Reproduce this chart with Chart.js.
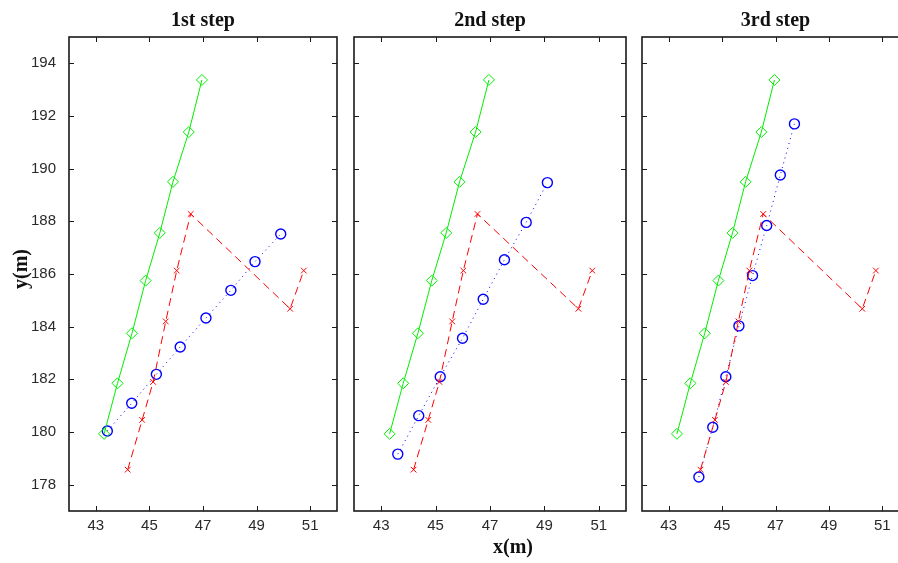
<!DOCTYPE html>
<html>
<head>
<meta charset="utf-8">
<script src="https://cdn.jsdelivr.net/npm/chart.js@4/dist/chart.umd.min.js"></script>
<style>
    body { margin: 0; background: #fff; overflow: hidden; }
    #wrap { position: relative; width: 898px; height: 563px; overflow: hidden; }
    canvas { position: absolute; top: 0; }
</style>
</head>
<body>
<div id="wrap">
    <canvas id="c1"></canvas>
    <canvas id="c2"></canvas>
    <canvas id="c3"></canvas>
</div>
<script>
// ---- data ----
const stepTitles = ['1st step', '2nd step', '3rd step'];
const xTicks = [43, 45, 47, 49, 51];
const yTicks = [178, 180, 182, 184, 186, 188, 190, 192, 194];

// same in every panel
const greenX = [43.31, 43.81, 44.35, 44.86, 45.39, 45.88, 46.47, 46.96];
const greenY = [179.93, 181.85, 183.75, 185.75, 187.56, 189.50, 191.39, 193.37];
const redX = [44.19, 44.73, 45.14, 45.61, 46.02, 46.54, 50.25, 50.76];
const redY = [178.57, 180.46, 181.90, 184.20, 186.13, 188.28, 184.68, 186.13];

// changes with each step
const blue1X = [43.43, 44.34, 45.26, 46.15, 47.11, 48.04, 48.94, 49.90];
const blue1Y = [180.04, 181.09, 182.19, 183.23, 184.33, 185.38, 186.47, 187.52];
const blue2X = [43.61, 44.38, 45.17, 45.99, 46.75, 47.53, 48.33, 49.11];
const blue2Y = [179.16, 180.62, 182.10, 183.56, 185.04, 186.54, 187.96, 189.47];
const blue3X = [44.13, 44.65, 45.14, 45.63, 46.14, 46.67, 47.18, 47.71];
const blue3Y = [178.29, 180.18, 182.10, 184.03, 185.94, 187.84, 189.76, 191.70];

const blueX = [blue1X, blue2X, blue3X];
const blueY = [blue1Y, blue2Y, blue3Y];

// ---- layout (pixels) ----
const panels = [
    { id: 'c1', left: 69, right: 337, padL: 69, yLabels: true },
    { id: 'c2', left: 354, right: 626, padL: 14, yLabels: false },
    { id: 'c3', left: 642, right: 909, padL: 14, yLabels: false },
];
const TOP = 37, BOTTOM = 511, H = 563, PAD_R = 8;

const tickFont = { family: '"Liberation Sans", Arial, sans-serif', size: 15 };
const serifBold = 'bold 20px "Liberation Serif", "Times New Roman", serif';

const pts = ( xs, ys ) => xs.map( ( x, i ) => ({ x, y: ys[i] }) );

// box + inward ticks + texts, MATLAB style
const framePlugin = {
    id: 'frame',
    afterDraw( chart, args, opts ) {
        const { ctx, chartArea: a, scales } = chart;
        ctx.save();
        ctx.strokeStyle = '#1a1a1a';
        ctx.lineWidth = 1.6;
        ctx.strokeRect( a.left, a.top, a.right - a.left, a.bottom - a.top );

        ctx.lineWidth = 1;
        ctx.beginPath();
        const tl = 5;
        xTicks.forEach( v => {
            const px = Math.round( scales.x.getPixelForValue( v ) ) + 0.5;
            ctx.moveTo( px, a.bottom ); ctx.lineTo( px, a.bottom - tl );
            ctx.moveTo( px, a.top ); ctx.lineTo( px, a.top + tl );
        });
        yTicks.forEach( v => {
            const py = Math.round( scales.y.getPixelForValue( v ) ) + 0.5;
            ctx.moveTo( a.left, py ); ctx.lineTo( a.left + tl, py );
            ctx.moveTo( a.right, py ); ctx.lineTo( a.right - tl, py );
        });
        ctx.stroke();

        ctx.fillStyle = '#111';
        ctx.font = serifBold;
        ctx.textAlign = 'center';
        ctx.textBaseline = 'alphabetic';
        ctx.fillText( opts.title, ( a.left + a.right ) / 2, 26 );

        if ( opts.xLabel ) {
            ctx.fillText( 'x(m)', opts.xLabelAt, 553 );
        }
        if ( opts.yLabel ) {
            ctx.translate( 27, 269 );
            ctx.rotate( -Math.PI / 2 );
            ctx.fillText( 'y(m)', 0, 0 );
        }
        ctx.restore();
    }
};

panels.forEach( ( p, i ) => {
    const canvas = document.getElementById( p.id );
    const width = p.padL + ( p.right - p.left ) + PAD_R;
    canvas.width = width;
    canvas.height = H;
    canvas.style.left = ( p.left - p.padL ) + 'px';

    new Chart( canvas, {
        type: 'scatter',
        data: {
            datasets: [
                {
                    data: pts( greenX, greenY ),
                    showLine: true,
                    borderColor: '#00ee00',
                    borderWidth: 1,
                    pointStyle: 'rectRot',
                    pointRadius: 5.5,
                    pointBorderWidth: 1,
                    pointBackgroundColor: 'rgba(0,0,0,0)',
                    pointBorderColor: '#00ee00',
                },
                {
                    data: pts( redX, redY ),
                    showLine: true,
                    borderColor: '#ff0000',
                    borderWidth: 1,
                    borderDash: [ 8, 5 ],
                    pointStyle: 'crossRot',
                    pointRadius: 4,
                    pointBorderWidth: 1,
                    pointBorderColor: '#ff0000',
                },
                {
                    data: pts( blueX[i], blueY[i] ),
                    showLine: true,
                    borderColor: '#0000ff',
                    borderWidth: 1,
                    borderDash: [ 1, 4 ],
                    pointStyle: 'circle',
                    pointRadius: 5,
                    pointBorderWidth: 1.4,
                    pointBackgroundColor: 'rgba(0,0,0,0)',
                    pointBorderColor: '#0000ff',
                },
            ]
        },
        options: {
            animation: false,
            responsive: false,
            devicePixelRatio: 1,
            layout: { padding: { top: TOP, right: PAD_R, left: 0, bottom: 0 } },
            plugins: {
                legend: { display: false },
                tooltip: { enabled: false },
                frame: {
                    title: stepTitles[i],
                    xLabel: i === 1,
                    xLabelAt: 513 - ( p.left - p.padL ),
                    yLabel: i === 0,
                },
            },
            scales: {
                x: {
                    type: 'linear',
                    min: 42,
                    max: 52,
                    grid: { display: false, drawTicks: false },
                    border: { display: false },
                    afterBuildTicks: scale => { scale.ticks = xTicks.map( v => ({ value: v }) ); },
                    afterFit: scale => { scale.height = H - BOTTOM; },
                    ticks: { font: tickFont, color: '#2a2a2a', padding: 6, maxRotation: 0 },
                },
                y: {
                    type: 'linear',
                    min: 177,
                    max: 195,
                    grid: { display: false, drawTicks: false },
                    border: { display: false },
                    afterBuildTicks: scale => { scale.ticks = yTicks.map( v => ({ value: v }) ); },
                    afterFit: scale => { scale.width = p.padL; },
                    ticks: { display: p.yLabels, font: tickFont, color: '#2a2a2a', padding: 13 },
                },
            },
        },
        plugins: [ framePlugin ],
    });
});
</script>
</body>
</html>
